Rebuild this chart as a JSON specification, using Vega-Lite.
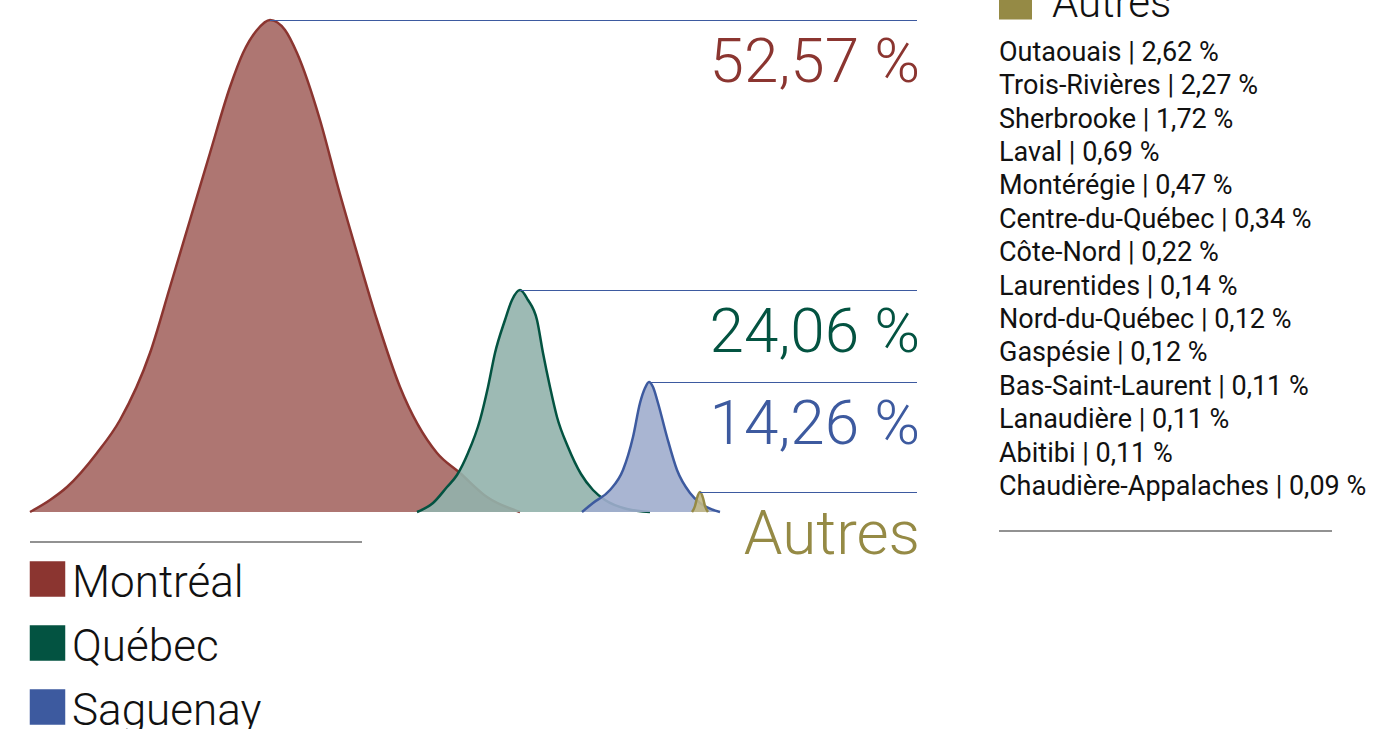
{
  "$schema": "https://vega.github.io/schema/vega-lite/v6.json",
  "width": 887,
  "height": 492,
  "autosize": {"type": "none"},
  "padding": {"left": 30, "top": 20, "right": 468, "bottom": 217},
  "background": "white",
  "config": {"view": {"stroke": null}, "font": "Roboto", "legend": {"disable": true}},
  "datasets": {
    "curves": [
      {"region": "Montréal", "x": 0, "y": 0},
      {"region": "Montréal", "x": 20, "y": 12},
      {"region": "Montréal", "x": 37, "y": 25},
      {"region": "Montréal", "x": 67, "y": 59},
      {"region": "Montréal", "x": 90, "y": 92},
      {"region": "Montréal", "x": 120, "y": 159},
      {"region": "Montréal", "x": 140, "y": 225},
      {"region": "Montréal", "x": 160, "y": 292},
      {"region": "Montréal", "x": 180, "y": 359},
      {"region": "Montréal", "x": 200, "y": 425},
      {"region": "Montréal", "x": 213, "y": 459},
      {"region": "Montréal", "x": 227, "y": 482},
      {"region": "Montréal", "x": 240, "y": 492},
      {"region": "Montréal", "x": 255, "y": 482},
      {"region": "Montréal", "x": 267, "y": 459},
      {"region": "Montréal", "x": 290, "y": 392},
      {"region": "Montréal", "x": 308, "y": 325},
      {"region": "Montréal", "x": 327, "y": 259},
      {"region": "Montréal", "x": 347, "y": 192},
      {"region": "Montréal", "x": 370, "y": 125},
      {"region": "Montréal", "x": 407, "y": 59},
      {"region": "Montréal", "x": 430, "y": 39},
      {"region": "Montréal", "x": 457, "y": 15},
      {"region": "Montréal", "x": 490, "y": 0},
      {"region": "Québec", "x": 387, "y": 0},
      {"region": "Québec", "x": 403, "y": 9},
      {"region": "Québec", "x": 417, "y": 25},
      {"region": "Québec", "x": 427, "y": 37},
      {"region": "Québec", "x": 438, "y": 59},
      {"region": "Québec", "x": 450, "y": 92},
      {"region": "Québec", "x": 458, "y": 125},
      {"region": "Québec", "x": 465, "y": 159},
      {"region": "Québec", "x": 475, "y": 192},
      {"region": "Québec", "x": 482, "y": 212},
      {"region": "Québec", "x": 490, "y": 222},
      {"region": "Québec", "x": 498, "y": 212},
      {"region": "Québec", "x": 507, "y": 192},
      {"region": "Québec", "x": 513, "y": 159},
      {"region": "Québec", "x": 520, "y": 125},
      {"region": "Québec", "x": 527, "y": 95},
      {"region": "Québec", "x": 538, "y": 65},
      {"region": "Québec", "x": 551, "y": 38},
      {"region": "Québec", "x": 563, "y": 22},
      {"region": "Québec", "x": 575, "y": 12},
      {"region": "Québec", "x": 597, "y": 3},
      {"region": "Québec", "x": 620, "y": 0},
      {"region": "Saguenay", "x": 552, "y": 0},
      {"region": "Saguenay", "x": 563, "y": 9},
      {"region": "Saguenay", "x": 580, "y": 22},
      {"region": "Saguenay", "x": 593, "y": 42},
      {"region": "Saguenay", "x": 603, "y": 75},
      {"region": "Saguenay", "x": 610, "y": 109},
      {"region": "Saguenay", "x": 615, "y": 124},
      {"region": "Saguenay", "x": 619, "y": 130},
      {"region": "Saguenay", "x": 623, "y": 125},
      {"region": "Saguenay", "x": 628, "y": 109},
      {"region": "Saguenay", "x": 637, "y": 75},
      {"region": "Saguenay", "x": 647, "y": 42},
      {"region": "Saguenay", "x": 660, "y": 19},
      {"region": "Saguenay", "x": 670, "y": 9},
      {"region": "Saguenay", "x": 690, "y": 0},
      {"region": "Autres", "x": 662, "y": 0},
      {"region": "Autres", "x": 665, "y": 6},
      {"region": "Autres", "x": 667, "y": 14},
      {"region": "Autres", "x": 670, "y": 20},
      {"region": "Autres", "x": 673, "y": 14},
      {"region": "Autres", "x": 675, "y": 6},
      {"region": "Autres", "x": 678, "y": 0}
    ],
    "labels": [
      {"region": "Montréal", "label": "52,57 %"},
      {"region": "Québec", "label": "24,06 %"},
      {"region": "Saguenay", "label": "14,26 %"},
      {"region": "Autres", "label": "Autres"}
    ],
    "others": [
      {"name": "Outaouais", "pct": 2.62},
      {"name": "Trois-Rivières", "pct": 2.27},
      {"name": "Sherbrooke", "pct": 1.72},
      {"name": "Laval", "pct": 0.69},
      {"name": "Montérégie", "pct": 0.47},
      {"name": "Centre-du-Québec", "pct": 0.34},
      {"name": "Côte-Nord", "pct": 0.22},
      {"name": "Laurentides", "pct": 0.14},
      {"name": "Nord-du-Québec", "pct": 0.12},
      {"name": "Gaspésie", "pct": 0.12},
      {"name": "Bas-Saint-Laurent", "pct": 0.11},
      {"name": "Lanaudière", "pct": 0.11},
      {"name": "Abitibi", "pct": 0.11},
      {"name": "Chaudière-Appalaches", "pct": 0.09}
    ]
  },
  "resolve": {"scale": {"y": "independent"}},
  "layer": [
    {
      "data": {"name": "curves"},
      "transform": [{"filter": "datum.region === 'Montréal'"}],
      "mark": {"type": "area", "interpolate": "monotone", "fillOpacity": 0.9},
      "encoding": {
        "x": {"field": "x", "type": "quantitative", "scale": {"domain": [0, 887], "nice": false, "zero": false}, "axis": null},
        "y": {"field": "y", "type": "quantitative", "scale": {"domain": [0, 492], "nice": false, "zero": false}, "axis": null},
        "fill": {"field": "region", "type": "nominal", "scale": {"domain": ["Montréal", "Québec", "Saguenay", "Autres"], "range": ["#a56763", "#92b2ac", "#a0adcd", "#c2b98a"]}, "legend": null}
      }
    },
    {
      "data": {"name": "curves"},
      "transform": [{"filter": "datum.region === 'Montréal'"}],
      "mark": {"type": "line", "interpolate": "monotone", "strokeWidth": 2.5},
      "encoding": {
        "x": {"field": "x", "type": "quantitative"},
        "y": {"field": "y", "type": "quantitative", "scale": {"domain": [0, 492], "nice": false, "zero": false}, "axis": null},
        "color": {"field": "region", "type": "nominal",
          "scale": {"domain": ["Montréal", "Québec", "Saguenay", "Autres"], "range": ["#8b3530", "#035341", "#3d5a9f", "#958a45"]},
          "legend": null}
      }
    },
    {
      "data": {"name": "curves"},
      "transform": [{"filter": "datum.region === 'Québec'"}],
      "mark": {"type": "area", "interpolate": "monotone", "fillOpacity": 0.9},
      "encoding": {
        "x": {"field": "x", "type": "quantitative"},
        "y": {"field": "y", "type": "quantitative", "scale": {"domain": [0, 492], "nice": false, "zero": false}, "axis": null},
        "fill": {"field": "region", "type": "nominal", "legend": null}
      }
    },
    {
      "data": {"name": "curves"},
      "transform": [{"filter": "datum.region === 'Québec'"}],
      "mark": {"type": "line", "interpolate": "monotone", "strokeWidth": 2.5},
      "encoding": {
        "x": {"field": "x", "type": "quantitative"},
        "y": {"field": "y", "type": "quantitative", "scale": {"domain": [0, 492], "nice": false, "zero": false}, "axis": null},
        "color": {"field": "region", "type": "nominal", "legend": null}
      }
    },
    {
      "data": {"name": "curves"},
      "transform": [{"filter": "datum.region === 'Saguenay'"}],
      "mark": {"type": "area", "interpolate": "monotone", "fillOpacity": 0.9},
      "encoding": {
        "x": {"field": "x", "type": "quantitative"},
        "y": {"field": "y", "type": "quantitative", "scale": {"domain": [0, 492], "nice": false, "zero": false}, "axis": null},
        "fill": {"field": "region", "type": "nominal", "legend": null}
      }
    },
    {
      "data": {"name": "curves"},
      "transform": [{"filter": "datum.region === 'Saguenay'"}],
      "mark": {"type": "line", "interpolate": "monotone", "strokeWidth": 2.5},
      "encoding": {
        "x": {"field": "x", "type": "quantitative"},
        "y": {"field": "y", "type": "quantitative", "scale": {"domain": [0, 492], "nice": false, "zero": false}, "axis": null},
        "color": {"field": "region", "type": "nominal", "legend": null}
      }
    },
    {
      "data": {"name": "curves"},
      "transform": [{"filter": "datum.region === 'Autres'"}],
      "mark": {"type": "area", "interpolate": "monotone", "fillOpacity": 0.9},
      "encoding": {
        "x": {"field": "x", "type": "quantitative"},
        "y": {"field": "y", "type": "quantitative", "scale": {"domain": [0, 492], "nice": false, "zero": false}, "axis": null},
        "fill": {"field": "region", "type": "nominal", "legend": null}
      }
    },
    {
      "data": {"name": "curves"},
      "transform": [{"filter": "datum.region === 'Autres'"}],
      "mark": {"type": "line", "interpolate": "monotone", "strokeWidth": 2.5},
      "encoding": {
        "x": {"field": "x", "type": "quantitative"},
        "y": {"field": "y", "type": "quantitative", "scale": {"domain": [0, 492], "nice": false, "zero": false}, "axis": null},
        "color": {"field": "region", "type": "nominal", "legend": null}
      }
    },
    {
      "data": {"name": "curves"},
      "transform": [
        {"joinaggregate": [{"op": "max", "field": "y", "as": "ymax"}], "groupby": ["region"]},
        {"filter": "datum.y === datum.ymax"},
        {"lookup": "region", "from": {"data": {"name": "labels"}, "key": "region", "fields": ["label"]}}
      ],
      "encoding": {
        "x": {"field": "x", "type": "quantitative"},
        "y": {"field": "y", "type": "quantitative", "scale": {"domain": [0, 492], "nice": false, "zero": false}, "axis": null}
      },
      "layer": [
        {
          "mark": {"type": "rule", "stroke": "#3d5aa0", "strokeWidth": 1, "yOffset": 0.5},
          "encoding": {"x2": {"value": "width"}}
        },
        {
          "mark": {"type": "text", "align": "right", "baseline": "alphabetic", "dx": 3, "dy": 62, "font": "Roboto", "fontWeight": 300, "fontSize": 62},
          "encoding": {"x": {"value": "width"}, "text": {"field": "label"}, "color": {"field": "region", "type": "nominal", "legend": null}}
        }
      ]
    },
    {
      "data": {"name": "labels"},
      "transform": [{"filter": "datum.region === 'Autres'"}],
      "encoding": {
        "y": {"datum": 0, "type": "quantitative", "scale": {"domain": [0, 492], "nice": false, "zero": false}, "axis": null}
      },
      "layer": [
        {
          "mark": {"type": "rule", "stroke": "#6e6e6e", "strokeWidth": 1.5, "yOffset": 30},
          "encoding": {"x": {"datum": 0, "type": "quantitative"}, "x2": {"datum": 332}}
        },
        {
          "mark": {"type": "rule", "stroke": "#6e6e6e", "strokeWidth": 1.5, "yOffset": 19},
          "encoding": {"x": {"datum": 969, "type": "quantitative"}, "x2": {"datum": 1302}}
        }
      ]
    },
    {
      "data": {"name": "labels"},
      "transform": [{"filter": "datum.region === 'Autres'"}],
      "encoding": {
        "y": {"datum": 492, "type": "quantitative", "scale": {"domain": [0, 492], "nice": false, "zero": false}, "axis": null}
      },
      "layer": [
        {
          "mark": {"type": "square", "size": 1089, "opacity": 1, "filled": true, "yOffset": -17},
          "encoding": {"x": {"datum": 985.5, "type": "quantitative"}, "color": {"field": "region", "type": "nominal", "legend": null}}
        },
        {
          "mark": {"type": "text", "align": "left", "baseline": "alphabetic", "font": "Roboto", "fontWeight": 300, "fontSize": 42, "color": "#111111", "yOffset": -3},
          "encoding": {"x": {"datum": 1022, "type": "quantitative"}, "text": {"field": "label"}}
        }
      ]
    },
    {
      "data": {"name": "labels"},
      "transform": [{"filter": "datum.region !== 'Autres'"}],
      "encoding": {
        "y": {"field": "region", "type": "nominal", "sort": null, "scale": {"type": "point", "range": [577, 705], "padding": 0}, "axis": null}
      },
      "layer": [
        {
          "mark": {"type": "square", "size": 1260, "opacity": 1, "filled": true, "yOffset": -18},
          "encoding": {"x": {"datum": 17.5, "type": "quantitative"}, "color": {"field": "region", "type": "nominal", "legend": null}}
        },
        {
          "mark": {"type": "text", "align": "left", "baseline": "alphabetic", "font": "Roboto", "fontWeight": 300, "fontSize": 44, "color": "#111111"},
          "encoding": {"x": {"datum": 42, "type": "quantitative"}, "text": {"field": "region"}}
        }
      ]
    },
    {
      "data": {"name": "others"},
      "transform": [{"calculate": "datum.name + ' | ' + replace(format(datum.pct, '.2f'), '.', ',') + ' %'", "as": "line"}],
      "mark": {"type": "text", "align": "left", "baseline": "alphabetic", "font": "Roboto", "fontWeight": 400, "fontSize": 27, "color": "#111111"},
      "encoding": {
        "x": {"datum": 969, "type": "quantitative"},
        "y": {"field": "name", "type": "nominal", "sort": null, "scale": {"type": "point", "range": [40.7, 475], "padding": 0}, "axis": null},
        "text": {"field": "line"}
      }
    }
  ]
}
